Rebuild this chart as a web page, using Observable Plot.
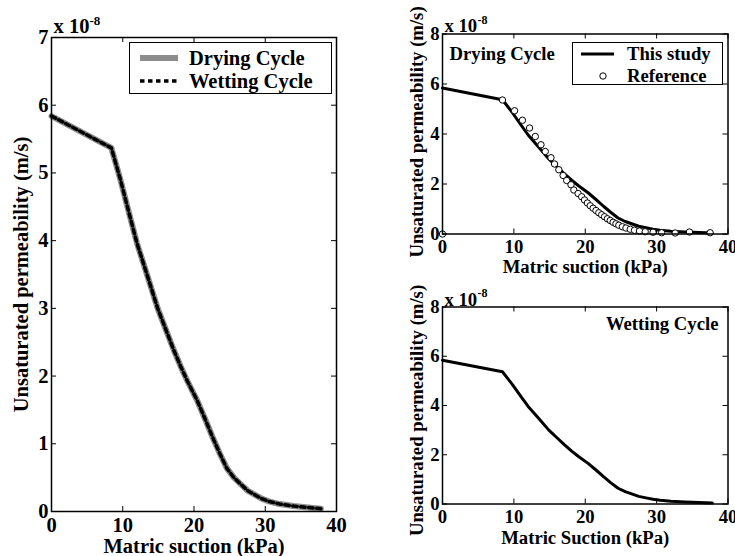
<!DOCTYPE html>
<html><head><meta charset="utf-8">
<script src="https://cdn.jsdelivr.net/npm/d3@7"></script>
<script src="https://cdn.jsdelivr.net/npm/@observablehq/plot@0.6"></script>
<style>
body{margin:0;background:#fff;}
#chart{position:relative;width:735px;height:556px;font-family:"Liberation Serif","Times New Roman",serif;font-weight:bold;color:#000;overflow:hidden;}
#chart svg{position:absolute;}
.legend{position:absolute;background:#fff;border:1.5px solid #000;box-sizing:border-box;}
.legend svg{position:absolute;left:0;top:0;}
.legend span{position:absolute;white-space:nowrap;line-height:1;}
</style></head><body><div id="chart"></div>
<script>
// ---- data ----
const suction  = [0, 8.4, 9.7, 11.0, 12.0, 13.4, 14.9, 16.0, 17.1, 18.1, 19.1, 20.4, 21.5, 22.6, 23.6, 24.6, 25.6, 26.6, 27.5, 28.5, 29.5, 30.5, 32, 34, 36, 37.8];
const dryingK  = [5.84, 5.37, 4.89, 4.36, 3.96, 3.5, 3.0, 2.7, 2.4, 2.15, 1.92, 1.65, 1.38, 1.1, 0.86, 0.64, 0.5, 0.4, 0.31, 0.25, 0.19, 0.15, 0.11, 0.08, 0.06, 0.04];
const wettingK = [5.84, 5.37, 4.89, 4.36, 3.96, 3.5, 3.0, 2.7, 2.4, 2.15, 1.92, 1.65, 1.38, 1.1, 0.86, 0.64, 0.5, 0.4, 0.31, 0.25, 0.19, 0.15, 0.11, 0.08, 0.06, 0.04];
const refSuction = [0, 8.4, 10.1, 11.2, 12.2, 13.0, 13.8, 14.4, 15.2, 15.7, 16.3, 16.9, 17.4, 18.0, 18.4, 19.0, 19.5, 19.9, 20.3, 20.7, 21.1, 21.5, 21.9, 22.3, 22.7, 23.1, 23.5, 23.9, 24.3, 24.7, 25.2, 25.7, 26.3, 26.9, 27.6, 28.4, 29.5, 30.7, 32.6, 34.6, 37.5];
const refK       = [0, 5.36, 4.93, 4.55, 4.24, 3.9, 3.57, 3.3, 3.05, 2.8, 2.57, 2.34, 2.14, 1.97, 1.76, 1.62, 1.49, 1.36, 1.24, 1.13, 1.03, 0.94, 0.85, 0.77, 0.69, 0.61, 0.54, 0.47, 0.41, 0.35, 0.29, 0.24, 0.19, 0.15, 0.12, 0.09, 0.07, 0.05, 0.04, 0.08, 0.05];
const xTicks = [0, 10, 20, 30, 40];
const yTicksLeft = [0, 1, 2, 3, 4, 5, 6, 7];
const yTicksRight = [0, 2, 4, 6, 8];

const FONT = '"Liberation Serif","Times New Roman",serif';
const drying = suction.map((x, i) => ({x, y: dryingK[i]}));
const wetting = suction.map((x, i) => ({x, y: wettingK[i]}));
const reference = refSuction.map((x, i) => ({x, y: refK[i]}));

function panel(o) {
  const iw = o.width - o.mL - o.mR, ih = o.height - o.mT - o.mB, tl = 5;
  const p = Plot.plot({
    width: o.width, height: o.height,
    marginLeft: o.mL, marginRight: o.mR, marginTop: o.mT, marginBottom: o.mB,
    x: {domain: [0, 40]}, y: {domain: [0, o.yMax]},
    style: {fontFamily: FONT, fontSize: o.fs + "px", fontWeight: "bold", background: "transparent", overflow: "visible", color: "#000"},
    marks: [
      ...o.marks,
      Plot.tickX(xTicks, {x: d => d, insetTop: ih - tl, stroke: "#000"}),
      Plot.tickX(xTicks, {x: d => d, insetBottom: ih - tl, stroke: "#000"}),
      Plot.tickY(o.yTicks, {y: d => d, insetRight: iw - tl, stroke: "#000"}),
      Plot.tickY(o.yTicks, {y: d => d, insetLeft: iw - tl, stroke: "#000"}),
      Plot.frame({stroke: "#000", strokeWidth: 1.5}),
      Plot.axisX({ticks: xTicks, tickSize: 0, tickPadding: o.padX, tickFormat: d => String(d), label: null, fill: "#000"}),
      Plot.axisY({ticks: o.yTicks, tickSize: 0, tickPadding: 3, tickFormat: d => String(d), label: null, fill: "#000"}),
      Plot.text([o.xLabel], {text: d => d, frameAnchor: "bottom", textAnchor: "middle", lineAnchor: "middle", dy: o.xLabDy, fill: "#000"}),
      Plot.text([o.yLabel], {text: d => d, frameAnchor: "left", rotate: -90, textAnchor: "middle", lineAnchor: "middle", dx: o.yLabDx, dy: o.yLabDy || 0, fill: "#000"}),
      Plot.text(["x 10"], {text: d => d, frameAnchor: "top-left", textAnchor: "start", lineAnchor: "bottom", dx: 2, dy: o.expDy, fill: "#000"}),
      Plot.text(["-8"], {text: d => d, frameAnchor: "top-left", textAnchor: "start", lineAnchor: "bottom", dx: o.supDx, dy: o.supDy, fontSize: o.supFs, fill: "#000"}),
      ...(o.extra || [])
    ]
  });
  p.style.left = o.left + "px";
  p.style.top = o.top + "px";
  return p;
}

const chart = document.getElementById("chart");

// Left panel
chart.append(panel({
  left: 0, top: 0, width: 370, height: 556, mL: 51, mR: 34, mT: 37, mB: 45,
  yMax: 7, yTicks: yTicksLeft, fs: 20.5, padX: 6,
  xLabel: "Matric suction (kPa)", xLabDy: 35,
  yLabel: "Unsaturated permeability (m/s)", yLabDx: -30,
  expDy: -5, supDx: 38, supDy: -13, supFs: 13,
  marks: [
    Plot.line(drying, {x: "x", y: "y", stroke: "#8c8c8c", strokeWidth: 6}),
    Plot.line(wetting, {x: "x", y: "y", stroke: "#000", strokeWidth: 3.5, strokeDasharray: "4.5,3.5"})
  ]
}));

// Right top panel
chart.append(panel({
  left: 395, top: 0, width: 340, height: 280, mL: 47, mR: 7.5, mT: 33.5, mB: 46.5,
  yMax: 8, yTicks: yTicksRight, fs: 18.7, padX: 6,
  xLabel: "Matric suction (kPa)", xLabDy: 33,
  yLabel: "Unsaturated permeability (m/s)", yLabDx: -25.5, yLabDy: -2,
  expDy: -2, supDx: 35, supDy: -10.5, supFs: 12,
  marks: [
    Plot.line(drying, {x: "x", y: "y", stroke: "#000", strokeWidth: 3}),
    Plot.dot(reference, {x: "x", y: "y", r: 3.2, fill: "#fff", stroke: "#000", strokeWidth: 1})
  ],
  extra: [
    Plot.text(["Drying Cycle"], {text: d => d, frameAnchor: "top-left", textAnchor: "start", lineAnchor: "middle", dx: 7, dy: 20, fill: "#000"})
  ]
}));

// Right bottom panel
chart.append(panel({
  left: 395, top: 280, width: 340, height: 276, mL: 47, mR: 7.5, mT: 26.5, mB: 52.5,
  yMax: 8, yTicks: yTicksRight, fs: 18.7, padX: 6,
  xLabel: "Matric Suction (kPa)", xLabDy: 34,
  yLabel: "Unsaturated permeability (m/s)", yLabDx: -25.5, yLabDy: 5,
  expDy: -1.5, supDx: 35, supDy: -10, supFs: 12,
  marks: [
    Plot.line(wetting, {x: "x", y: "y", stroke: "#000", strokeWidth: 3})
  ],
  extra: [
    Plot.text(["Wetting Cycle"], {text: d => d, frameAnchor: "top-right", textAnchor: "end", lineAnchor: "middle", dx: -9.5, dy: 17, fill: "#000"})
  ]
}));

// Legends (HTML overlays)
function legend(box, entries, fs) {
  const d = document.createElement("div");
  d.className = "legend";
  Object.assign(d.style, {left: box.left + "px", top: box.top + "px", width: box.w + "px", height: box.h + "px", fontSize: fs + "px"});
  const ns = "http://www.w3.org/2000/svg";
  const s = document.createElementNS(ns, "svg");
  s.setAttribute("width", box.w); s.setAttribute("height", box.h);
  s.style.position = "absolute"; s.style.left = "0px"; s.style.top = "0px";
  for (const e of entries) {
    if (e.kind === "line") {
      const l = document.createElementNS(ns, "line");
      l.setAttribute("x1", e.x1); l.setAttribute("x2", e.x2);
      l.setAttribute("y1", e.y); l.setAttribute("y2", e.y);
      l.setAttribute("stroke", e.stroke); l.setAttribute("stroke-width", e.sw);
      if (e.dash) l.setAttribute("stroke-dasharray", e.dash);
      s.append(l);
    } else {
      const c = document.createElementNS(ns, "circle");
      c.setAttribute("cx", e.cx); c.setAttribute("cy", e.y); c.setAttribute("r", 3.2);
      c.setAttribute("fill", "#fff"); c.setAttribute("stroke", "#000"); c.setAttribute("stroke-width", 1);
      s.append(c);
    }
    const t = document.createElement("span");
    t.textContent = e.label;
    t.style.left = e.tx + "px";
    t.style.top = (e.y - fs * 0.5) + "px";
    d.append(t);
  }
  d.prepend(s);
  chart.append(d);
}

legend({left: 129, top: 42, w: 203, h: 52}, [
  {kind: "line", x1: 10, x2: 48, y: 15, stroke: "#8c8c8c", sw: 6, tx: 59, label: "Drying Cycle"},
  {kind: "line", x1: 10, x2: 48, y: 38, stroke: "#000", sw: 3.5, dash: "4.5,3.5", tx: 59, label: "Wetting Cycle"}
], 20.5);

legend({left: 572, top: 42, w: 151, h: 43}, [
  {kind: "line", x1: 8, x2: 41, y: 11, stroke: "#000", sw: 3, tx: 54, label: "This study"},
  {kind: "dot", cx: 30, y: 33, tx: 54, label: "Reference"}
], 18.7);
</script></body></html>
